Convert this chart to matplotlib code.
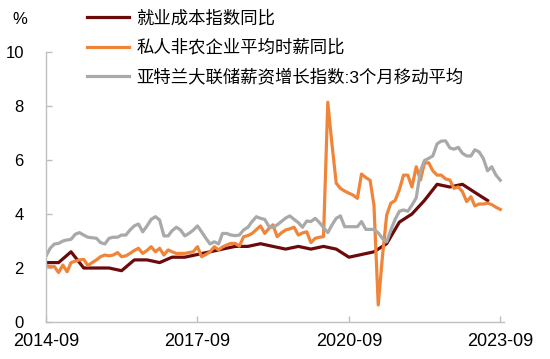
import matplotlib
matplotlib.use("Agg")
import matplotlib.pyplot as plt
import matplotlib.dates as mdates
import pandas as pd

plt.rcParams['font.family'] = ['Liberation Sans', 'Noto Sans CJK SC', 'DejaVu Sans']

# 就业成本指数同比 (季度)
eci_dates = pd.date_range('2014-09-01', periods=36, freq='3MS')
eci = [2.2, 2.2,
       2.6, 2.0, 2.0, 2.0,
       1.9, 2.3, 2.3, 2.2,
       2.4, 2.4, 2.5, 2.6,
       2.7, 2.8, 2.8, 2.9,
       2.8, 2.7, 2.8, 2.7,
       2.8, 2.7, 2.4, 2.5,
       2.6, 2.9, 3.7, 4.0,
       4.5, 5.1, 5.0, 5.1,
       4.8, 4.5]

# 私人非农企业平均时薪同比 (月度)
ahe_dates = pd.date_range('2014-09-01', periods=109, freq='MS')
ahe = [2.09, 2.05, 2.05, 1.83,
       2.11, 1.86, 2.2, 2.25, 2.3, 2.32, 2.09, 2.2, 2.3, 2.42, 2.48, 2.45,
       2.48, 2.57, 2.42, 2.45, 2.54, 2.65, 2.73, 2.54, 2.65, 2.79, 2.6, 2.73,
       2.48, 2.67, 2.6, 2.54, 2.54, 2.54, 2.57, 2.6, 2.79, 2.42, 2.5, 2.6,
       2.79, 2.67, 2.78, 2.85, 2.91, 2.91, 2.81, 3.16, 3.2, 3.28, 3.42, 3.56,
       3.28, 3.47, 3.6, 3.16, 3.3, 3.41, 3.45, 3.51, 3.22, 3.3, 3.34, 2.94,
       3.1, 3.14, 3.16, 8.14, 6.6, 5.14, 4.95, 4.85, 4.77, 4.7, 4.58, 5.48,
       5.35, 5.25, 4.33, 0.63, 2.4, 3.96, 4.4, 4.5, 4.9, 5.44, 5.44, 5.0,
       5.75, 5.26, 5.88, 5.9, 5.6, 5.44, 5.44, 5.3, 5.26, 4.95, 5.0, 4.83,
       4.46, 4.64, 4.3, 4.37, 4.37, 4.4, 4.35, 4.25, 4.17]

# 亚特兰大联储薪资增长指数:3个月移动平均 (月度)
atl_dates = pd.date_range('2014-09-01', periods=109, freq='MS')
atl = [2.44, 2.73, 2.89, 2.91,
       3.0, 3.04, 3.06, 3.25, 3.31, 3.22, 3.14, 3.12, 3.1, 2.94, 2.89, 3.1,
       3.14, 3.14, 3.22, 3.22, 3.41, 3.56, 3.63, 3.34, 3.56, 3.8, 3.9, 3.78,
       3.19, 3.19, 3.38, 3.51, 3.41, 3.19, 3.28, 3.4, 3.56, 3.34, 3.1, 2.89,
       2.97, 2.89, 3.28, 3.28, 3.22, 3.2, 3.22, 3.41, 3.51, 3.72, 3.9, 3.84,
       3.8, 3.53, 3.5, 3.6, 3.72, 3.85, 3.93, 3.8, 3.68, 3.51, 3.74, 3.72,
       3.84, 3.68, 3.5, 3.31, 3.59, 3.84, 3.93, 3.53, 3.53, 3.53, 3.53, 3.72,
       3.43, 3.43, 3.43, 3.3, 3.1, 2.97, 3.4, 3.8, 4.1, 4.15, 4.1, 4.33,
       4.6, 5.6, 5.98, 6.06, 6.15, 6.6, 6.7, 6.71, 6.45, 6.4, 6.47, 6.25,
       6.15, 6.15, 6.38, 6.3, 6.06, 5.6, 5.75, 5.44, 5.25]

labels = ['就业成本指数同比', '私人非农企业平均时薪同比', '亚特兰大联储薪资增长指数:3个月移动平均']
colors = ['#6B0A0A', '#F0853A', '#A9A9A9']
tick_dates = pd.to_datetime(['2014-09-01', '2017-09-01', '2020-09-01', '2023-09-01'])
spine_color = '#BFBFBF'

fig = plt.figure(figsize=(5.5, 3.59), dpi=100)
ax = fig.add_axes([46 / 550, 1 - 322 / 359, 458 / 550, 270 / 359])

ax.plot(eci_dates, eci, color=colors[0], lw=2.3, label=labels[0])
ax.plot(ahe_dates, ahe, color=colors[1], lw=2.3, label=labels[1])
ax.plot(atl_dates, atl, color=colors[2], lw=2.3, label=labels[2])

ax.set_ylim(0, 10)
ax.set_yticks([0, 2, 4, 6, 8, 10])
ax.set_xlim(pd.Timestamp('2014-09-01'), pd.Timestamp('2023-09-28'))
ax.set_xticks(tick_dates)
ax.xaxis.set_major_formatter(mdates.DateFormatter('%Y-%m'))

for s in ['top', 'right']:
    ax.spines[s].set_visible(False)
for s in ['left', 'bottom']:
    ax.spines[s].set_color(spine_color)
    ax.spines[s].set_linewidth(1)

ax.tick_params(axis='both', direction='in', length=4, width=1, color=spine_color)
ax.tick_params(axis='x', labelsize=13, pad=8)
ax.tick_params(axis='y', labelsize=12, pad=16)

fig.text(20 / 550, 1 - 20 / 359, '%', fontsize=12, ha='center', va='center')

fig.legend(loc='upper left', bbox_to_anchor=(87 / 550, 1 - 10 / 359), frameon=False,
           fontsize=12.5, handlelength=2.4, handletextpad=0.45, labelspacing=0.72,
           borderpad=0, borderaxespad=0)

fig.savefig('out.png', dpi=100)
